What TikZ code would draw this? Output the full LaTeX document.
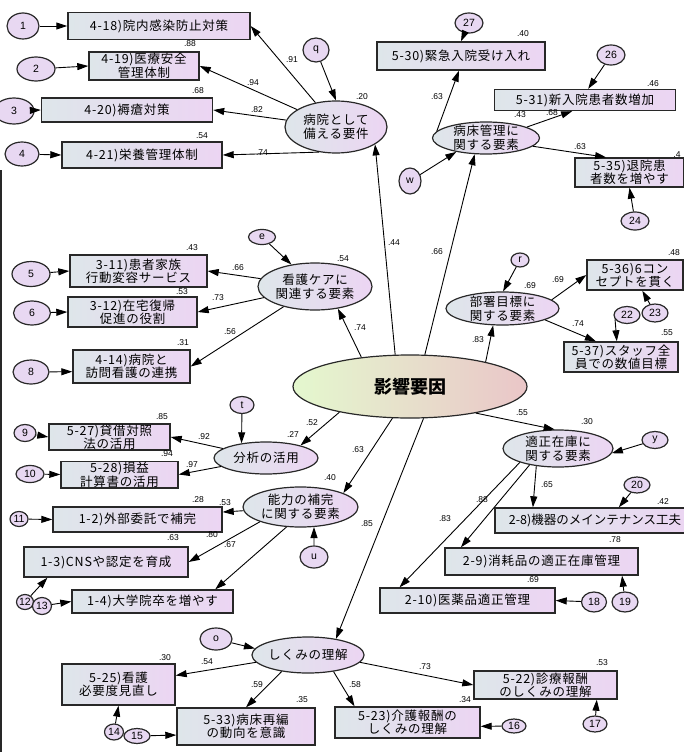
\documentclass[tikz,border=0pt]{standalone}
\usepackage{fontspec}
\newfontfamily\jpfont{Noto Sans CJK JP}[LetterSpace=6]
\newfontfamily\jpplain{Noto Sans CJK JP}
\newfontfamily\jptitle{Noto Sans CJK JP}
\newfontfamily\numfont{Liberation Sans}
\usetikzlibrary{arrows.meta, shapes.geometric}

\definecolor{boxleft}{RGB}{222,230,234}
\definecolor{boxright}{RGB}{236,213,243}
\definecolor{errfill}{RGB}{232,216,242}
\definecolor{rimgray}{RGB}{40,40,40}
\definecolor{coreleft}{RGB}{228,248,206}
\definecolor{coreright}{RGB}{234,198,200}

\begin{document}
\begin{tikzpicture}[
        x=1pt, y=-1pt,
        >={Triangle[length=11pt,width=7pt]},
        obs/.style={
            rectangle,
            draw=rimgray,
            line width=1.4pt,
            left color=boxleft,
            right color=boxright,
            align=center,
            inner sep=0.5pt,
            font=\jpfont\fontsize{12.5}{13}\selectfont
        },
        latent/.style={
            ellipse,
            draw=rimgray,
            line width=1.2pt,
            left color=boxleft,
            right color=boxright,
            align=center,
            inner xsep=0pt,
            inner ysep=-3pt,
            font=\jpfont\fontsize{12.5}{14}\selectfont
        },
        err/.style={
            ellipse,
            draw=rimgray,
            line width=1.2pt,
            fill=errfill,
            inner sep=0pt,
            font=\numfont\fontsize{10.5}{11}\selectfont
        },
        coef/.style={inner sep=0pt, font=\numfont\fontsize{8.5}{9}\selectfont},
        arr/.style={->, line width=0.9pt}
    ]

    \useasboundingbox (0,0) rectangle (683,752);
    \draw[line width=2pt, rimgray] (1,170) -- (1,752);

    % Central factor
    \node[ellipse, draw=rimgray, line width=1.2pt, left color=coreleft, right color=coreright,
          minimum width=234, minimum height=63,
          font=\jptitle\bfseries\fontsize{18}{20}\selectfont] (eikyo) at (410,386.5) {影響要因};

    % Sub factors
    \node[latent, minimum width=102, minimum height=52] (hosp) at (336,127) {病院として\\備える要件};
    \node[latent, minimum width=107, minimum height=32] (byosho) at (486,138) {病床管理に\\関する要素};
    \node[latent, minimum width=114, minimum height=47] (kango) at (315,286.5) {看護ケアに\\関連する要素};
    \node[latent, minimum width=113, minimum height=33] (busho) at (502.5,308.5) {部署目標に\\関する要素};
    \node[latent, minimum width=104, minimum height=32] (bunseki) at (266,458) {分析の活用};
    \node[latent, minimum width=115, minimum height=40] (noryoku) at (300.5,507) {能力の補完\\に関する要素};
    \node[latent, minimum width=110, minimum height=37] (tekisei) at (558,448.5) {適正在庫に\\関する要素};
    \node[latent, minimum width=109, minimum height=36] (shikumi) at (308,655) {しくみの理解};

    % Observed items
    \node[obs, minimum width=182, minimum height=27] (b418) at (159,26) {4-18)院内感染防止対策};
    \node[obs, minimum width=110, minimum height=28] (b419) at (144,66) {4-19)医療安全\\管理体制};
    \node[obs, minimum width=171, minimum height=24] (b420) at (127,110) {4-20)褥瘡対策};
    \node[obs, minimum width=160, minimum height=26] (b421) at (142,155) {4-21)栄養管理体制};
    \node[obs, minimum width=168, minimum height=28] (b530) at (461,56) {5-30)緊急入院受け入れ};
    \node[obs, minimum width=181, minimum height=21] (b531) at (585,100) {5-31)新入院患者数増加};
    \node[obs, minimum width=109, minimum height=29] (b535) at (629.5,172.5) {5-35)退院患\\者数を増やす};
    \node[obs, minimum width=137, minimum height=32] (b311) at (138.5,271) {3-11)患者家族\\行動変容サービス};
    \node[obs, minimum width=129, minimum height=30] (b312) at (132.5,312) {3-12)在宅復帰\\促進の役割};
    \node[obs, minimum width=117, minimum height=33] (b414) at (131.5,366.5) {4-14)病院と\\訪問看護の連携};
    \node[obs, minimum width=96, minimum height=30] (b536) at (635,275) {5-36)6コン\\セプトを貫く};
    \node[obs, minimum width=114, minimum height=30] (b537) at (621,357) {5-37)スタッフ全\\員での数値目標};
    \node[obs, minimum width=121, minimum height=26] (b527) at (109.5,437) {5-27)貸借対照\\法の活用};
    \node[obs, minimum width=117, minimum height=25] (b528) at (119.5,474.5) {5-28)損益\\計算書の活用};
    \node[obs, minimum width=169, minimum height=25] (b12) at (137.5,519.5) {1-2)外部委託で補完};
    \node[obs, minimum width=164, minimum height=30] (b13) at (106,562) {1-3)CNSや認定を育成};
    \node[obs, minimum width=161, minimum height=23] (b14) at (152.5,601.5) {1-4)大学院卒を増やす};
    \node[obs, minimum width=200, minimum height=25, font=\jpplain\fontsize{12.5}{13}\selectfont] (b28) at (595,520.5) {2-8)機器のメインテナンス工夫};
    \node[obs, minimum width=193, minimum height=27] (b29) at (541.5,561.5) {2-9)消耗品の適正在庫管理};
    \node[obs, minimum width=175, minimum height=25] (b210) at (467.5,600.5) {2-10)医薬品適正管理};
    \node[obs, minimum width=113, minimum height=41] (b525) at (118.5,684.5) {5-25)看護\\必要度見直し};
    \node[obs, minimum width=138, minimum height=37] (b533) at (246,726.5) {5-33)病床再編\\の動向を意識};
    \node[obs, minimum width=145, minimum height=31] (b523) at (407.5,722.5) {5-23)介護報酬の\\しくみの理解};
    \node[obs, minimum width=143, minimum height=28] (b522) at (545.5,685) {5-22)診療報酬\\のしくみの理解};

    % Error terms
    \foreach \nm/\px/\py/\ew/\eh/\txt in {
        c1/23/26/32/26/1, c2/36/69/38/24/2, c3/14/111/40/26/3, c4/22/154/34/24/4,
        c5/31/274/38/25/5, c6/32/313/37/24/6, c8/31/372/36/24/8, c9/25/433/22/17/9,
        c10/30/474/28/17/10, c11/19/519/18/15/11, c12/25/602/17/15/12, c13/42/606/19/17/13,
        c14/114/732/19/16/14, c15/137/736/26/15/15, c16/514/726/24/14/16, c17/595/724/24/16/17,
        c18/594/602/25/20/18, c19/625/602/26/20/19, c20/637/485/26/16/20, c22/627/315/26/17/22,
        c23/655/313/26/18/23, c24/635/221/28/18/24, c26/611/55/28/20/26, c27/469/23/28/20/27,
        q/316/50/26/24/q, w/410/181/22/26/w, e/262/237/27/15/e, r/520/260/18/14/r,
        t/242/405/24/17/t, u/314/557/28/22/u, y/655/440/26/17/y, o/216/639/32/22/o}
        \node[err, minimum width=\ew, minimum height=\eh] (\nm) at (\px,\py) {\txt};

    % Coefficients
    \foreach \px/\py/\val [count=\k] in {
        190/44/.88, 292/60/.91, 253/83/.94, 198/91/.68, 257/110/.82, 202/136/.54,
        262/153/.74, 362/97/.20, 523/34/.40, 653/84/.46, 437/97/.63, 520/115/.43,
        552/113/.68, 580/147/.63, 677/155/.4, 394/243/.44, 437/252/.66,
        192/248/.43, 238/268/.66, 182/292/.53, 218/298/.73, 230/332/.56, 183/343/.31,
        343/259/.54, 360/328/.74, 530/286/.69, 558/280/.69, 674/253/.48, 578/324/.74,
        667/333/.55, 478/340/.83, 162/417/.85, 204/437/.92, 167/454/.94, 192/465/.97,
        312/423/.52, 293/435/.27, 198/500/.28, 225/503/.53, 330/478/.40, 358/450/.63,
        173/538/.63, 212/535/.80, 230/545/.67, 367/524/.85, 522/413/.55, 587/422/.30,
        547/485/.65, 663/502/.42, 482/500/.88, 445/519/.83, 615/540/.78, 533/580/.69,
        165/658/.30, 207/662/.54, 257/685/.59, 302/700/.35, 355/685/.58, 465/700/.34,
        425/667/.73, 602/663/.53}
        \node[coef] (coef\k) at (\px,\py) {\val};

    % Paths from the central factor
    \draw[arr] (eikyo.115) -- (hosp.-24);
    \draw[arr] (eikyo.65) -- (byosho.235);
    \draw[arr] (eikyo.149) -- (kango.-44);
    \draw[arr] (eikyo.18) -- (busho.241);
    \draw[arr] (eikyo.-22) -- (tekisei.100);
    \draw[arr] (eikyo.200) -- (bunseki.20);
    \draw[arr] (eikyo.241) -- (noryoku.18);
    \draw[arr] (eikyo.-67) -- (shikumi.30);

    % Loadings
    \draw[arr] (hosp) -- (b418.east);
    \draw[arr] (hosp) -- (b419.east);
    \draw[arr] (hosp) -- (b420.east);
    \draw[arr] (hosp.236) -- (b421.east);
    \draw[arr] (byosho.172) -- (b530.262);
    \draw[arr] (byosho.15) -- (b531.221);
    \draw[arr] (byosho.-10) -- (b535.147);
    \draw[arr] (kango) -- (b311.east);
    \draw[arr] (kango) -- (b312.east);
    \draw[arr] (kango) -- (b414.east);
    \draw[arr] (busho.10) -- (b536.west);
    \draw[arr] (busho.-15) -- (b537.148);
    \draw[arr] (bunseki) -- (b527.east);
    \draw[arr] (bunseki) -- (b528.east);
    \draw[arr] (noryoku) -- (b12.5);
    \draw[arr] (noryoku.200) -- (b13.east);
    \draw[arr] (noryoku.235) -- (b14.11);
    \draw[arr] (tekisei.219) -- (b28.168);
    \draw[arr] (tekisei.210) -- (b29.170);
    \draw[arr] (tekisei.200) -- (b210.169);
    \draw[arr] (shikumi.188) -- (b525.9);
    \draw[arr] (shikumi.212) -- (b533.north);
    \draw[arr] (shikumi.-33) -- (b523.163);
    \draw[arr] (shikumi.-8) -- (b522.west);

    % Disturbances
    \draw[arr] (q) -- (hosp.north);
    \draw[arr] (w) -- (byosho.205);
    \draw[arr] (e) -- (kango.137);
    \draw[arr] (r) -- (busho.88);
    \draw[arr] (t) -- (bunseki.149);
    \draw[arr] (u) -- (noryoku.-56);
    \draw[arr] (y) -- (tekisei.-5);
    \draw[arr] (o) -- (shikumi.173);

    % Item errors
    \draw[arr] (c1) -- (b418.west);
    \draw[arr] (c2) -- (b419.west);
    \draw[arr] (c3) -- (b420.west);
    \draw[arr] (c4) -- (b421.west);
    \draw[arr] (c5) -- (b311.west);
    \draw[arr] (c6) -- (b312.west);
    \draw[arr] (c8) -- (b414.185);
    \draw[arr] (c9) -- (b527.west);
    \draw[arr] (c10) -- (b528.west);
    \draw[arr] (c11) -- (b12.west);
    \draw[arr] (c12) -- (b13.195);
    \draw[arr] (c13) -- (b14.west);
    \draw[arr] (c14) -- (b525.south);
    \draw[arr] (c15) -- (b533.187);
    \draw[arr] (c16) -- (b523.-3);
    \draw[arr] (c17) -- (b522.-16);
    \draw[arr] (c18) -- (b210.east);
    \draw[arr] (c19) -- (b29.-10);
    \draw[arr] (c20) -- (b28.29);
    \draw[arr] (c22.200) -- (b537.105);
    \draw[arr] (c23) -- (b536.-65);
    \draw[arr] (c24) -- (b535.south);
    \draw[arr] (c26) -- (b531.74);
    \draw[arr] (c27) -- (b530.north);

\end{tikzpicture}
\end{document}
